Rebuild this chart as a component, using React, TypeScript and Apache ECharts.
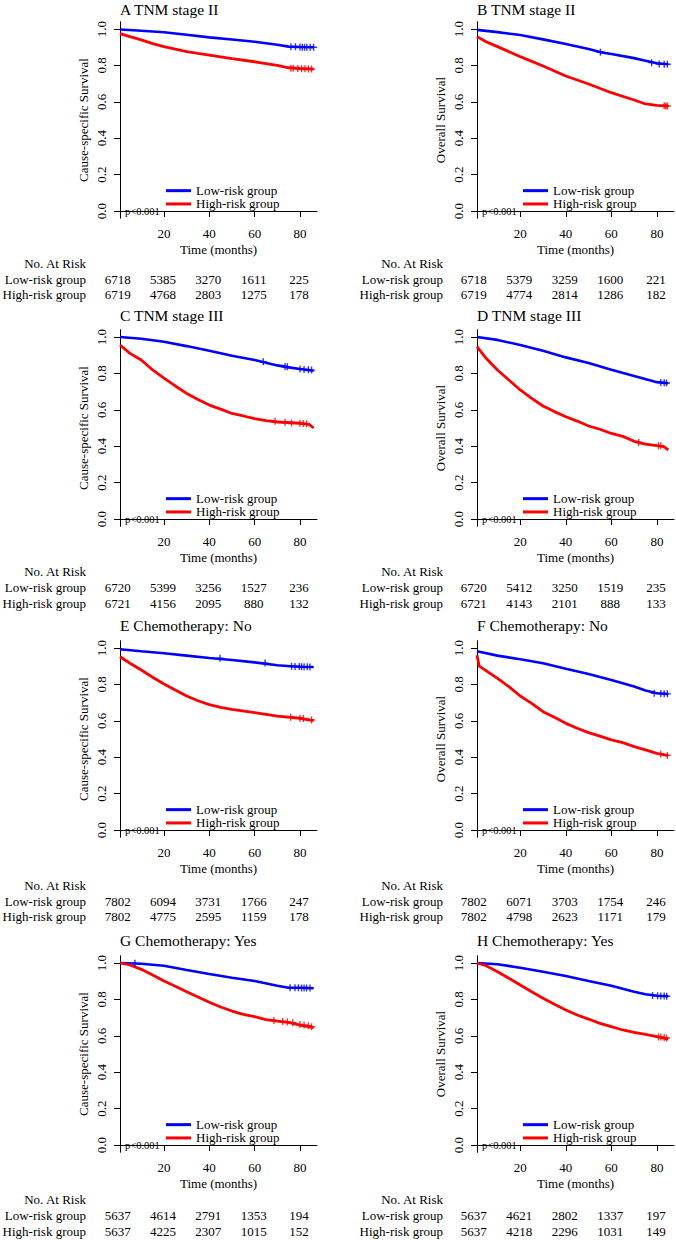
import React, { useEffect, useRef } from 'react';
import * as echarts from 'echarts';

const FONT = "'Liberation Serif', 'Times New Roman', serif";
const BLUE = '#0000FF';
const RED = '#FF0000';
const INK = '#000000';

// ---------- data ----------
const panelTitles = [
  'A TNM stage II', 'B TNM stage II',
  'C TNM stage III', 'D TNM stage III',
  'E Chemotherapy: No', 'F Chemotherapy: No',
  'G Chemotherapy: Yes', 'H Chemotherapy: Yes',
];
const yAxisNames = [
  'Cause-specific Survival', 'Overall Survival',
  'Cause-specific Survival', 'Overall Survival',
  'Cause-specific Survival', 'Overall Survival',
  'Cause-specific Survival', 'Overall Survival',
];
const seriesNames = ['Low-risk group', 'High-risk group'];
const xTicks = [20, 40, 60, 80];
const yTicks = [0, 0.2, 0.4, 0.6, 0.8, 1.0];
const pValueText = 'p<0.001';
const riskTitle = 'No. At Risk';
const riskTimes = [0, 20, 40, 60, 80];

const riskLow = [
  [6718, 5385, 3270, 1611, 225],
  [6718, 5379, 3259, 1600, 221],
  [6720, 5399, 3256, 1527, 236],
  [6720, 5412, 3250, 1519, 235],
  [7802, 6094, 3731, 1766, 247],
  [7802, 6071, 3703, 1754, 246],
  [5637, 4614, 2791, 1353, 194],
  [5637, 4621, 2802, 1337, 197],
];
const riskHigh = [
  [6719, 4768, 2803, 1275, 178],
  [6719, 4774, 2814, 1286, 182],
  [6721, 4156, 2095, 880, 132],
  [6721, 4143, 2101, 888, 133],
  [7802, 4775, 2595, 1159, 178],
  [7802, 4798, 2623, 1171, 179],
  [5637, 4225, 2307, 1015, 152],
  [5637, 4218, 2296, 1031, 149],
];

// survival curves [time, survival]
const lowA = [[0.6, 0.997], [10, 0.99], [20, 0.982], [30, 0.968], [40, 0.954], [50, 0.942], [60, 0.93], [70, 0.913], [75, 0.903], [80, 0.901], [86, 0.9]];
const highA = [[0.6, 0.975], [5, 0.958], [10, 0.94], [15, 0.92], [20, 0.903], [25, 0.889], [30, 0.876], [35, 0.866], [40, 0.857], [50, 0.837], [60, 0.82], [70, 0.8], [75, 0.787], [80, 0.783], [86, 0.78]];
const lowB = [[1, 0.995], [10, 0.983], [20, 0.967], [30, 0.943], [40, 0.918], [50, 0.89], [55, 0.873], [60, 0.863], [70, 0.84], [75, 0.826], [80, 0.812], [85, 0.806]];
const highB = [[1, 0.958], [5, 0.93], [10, 0.903], [20, 0.848], [30, 0.797], [40, 0.742], [50, 0.698], [60, 0.65], [70, 0.61], [75, 0.588], [80, 0.58], [85, 0.577]];
const lowC = [[0.6, 1.0], [10, 0.99], [20, 0.974], [30, 0.95], [40, 0.925], [50, 0.897], [60, 0.874], [70, 0.844], [75, 0.833], [80, 0.824], [86, 0.815]];
const highC = [[0.6, 0.956], [5, 0.91], [10, 0.874], [15, 0.819], [20, 0.774], [25, 0.731], [30, 0.69], [35, 0.657], [40, 0.626], [45, 0.604], [50, 0.58], [55, 0.566], [60, 0.551], [65, 0.54], [70, 0.533], [80, 0.526], [84, 0.52], [86, 0.5]];
const lowD = [[1, 1.0], [10, 0.984], [20, 0.956], [30, 0.925], [40, 0.888], [50, 0.857], [60, 0.82], [70, 0.786], [80, 0.752], [85, 0.746]];
const highD = [[1, 0.947], [5, 0.883], [10, 0.819], [15, 0.764], [20, 0.709], [25, 0.663], [30, 0.621], [35, 0.59], [40, 0.562], [45, 0.538], [50, 0.511], [55, 0.493], [60, 0.47], [65, 0.454], [70, 0.427], [75, 0.412], [80, 0.403], [83, 0.398], [85, 0.38]];
const lowE = [[0.6, 0.993], [10, 0.982], [20, 0.971], [30, 0.958], [40, 0.945], [50, 0.934], [60, 0.921], [70, 0.905], [76, 0.9], [80, 0.897], [86, 0.896]];
const highE = [[0.6, 0.952], [5, 0.916], [10, 0.879], [15, 0.839], [20, 0.802], [25, 0.769], [30, 0.736], [35, 0.71], [40, 0.689], [45, 0.674], [50, 0.663], [60, 0.645], [70, 0.626], [80, 0.614], [86, 0.601]];
const lowF = [[1, 0.982], [10, 0.958], [20, 0.938], [30, 0.916], [40, 0.886], [50, 0.857], [60, 0.824], [70, 0.788], [75, 0.766], [80, 0.751], [85, 0.747]];
const highF = [[1, 0.96], [2, 0.9], [10, 0.833], [15, 0.788], [20, 0.736], [25, 0.696], [30, 0.65], [35, 0.619], [40, 0.586], [45, 0.559], [50, 0.535], [55, 0.516], [60, 0.495], [65, 0.48], [70, 0.458], [75, 0.44], [80, 0.421], [85, 0.408]];
const lowG = [[0.6, 1.0], [10, 0.996], [20, 0.985], [30, 0.962], [40, 0.94], [50, 0.919], [60, 0.901], [70, 0.875], [75, 0.864], [80, 0.864], [86, 0.861]];
const highG = [[0.6, 1.0], [5, 0.989], [10, 0.965], [15, 0.934], [20, 0.901], [25, 0.872], [30, 0.842], [35, 0.813], [40, 0.784], [45, 0.758], [50, 0.736], [55, 0.718], [60, 0.705], [65, 0.689], [70, 0.681], [75, 0.674], [80, 0.659], [86, 0.645]];
const lowH = [[1, 1.0], [10, 0.993], [20, 0.974], [30, 0.952], [40, 0.929], [50, 0.901], [60, 0.875], [70, 0.842], [75, 0.828], [80, 0.82], [85, 0.817]];
const highH = [[1, 1.0], [5, 0.985], [10, 0.952], [15, 0.916], [20, 0.879], [25, 0.842], [30, 0.806], [35, 0.773], [40, 0.742], [45, 0.714], [50, 0.692], [55, 0.668], [60, 0.65], [65, 0.632], [70, 0.619], [75, 0.608], [80, 0.595], [85, 0.582]];

// censoring marks [time, survival]
const censLowA = [[76, 0.903], [78, 0.902], [80, 0.901], [81, 0.9], [82, 0.9], [83, 0.9], [84.5, 0.9], [86, 0.9]];
const censHighA = [[76, 0.785], [77, 0.784], [79, 0.783], [80.7, 0.782], [82.2, 0.781], [83.7, 0.78], [85.1, 0.78]];
const censLowB = [[55.2, 0.872], [77.7, 0.815], [81, 0.808], [83.2, 0.806], [84.6, 0.806]];
const censHighB = [[83.2, 0.578], [83.9, 0.577], [84.6, 0.577]];
const censLowC = [[63.8, 0.864], [73.4, 0.838], [74.4, 0.836], [80, 0.824], [81.8, 0.822], [83.7, 0.82], [85.1, 0.818]];
const censHighC = [[69, 0.537], [73.4, 0.531], [76.3, 0.528], [80, 0.526], [81.5, 0.525], [82.9, 0.523]];
const censLowD = [[81.7, 0.75], [83.2, 0.748], [84.2, 0.747]];
const censHighD = [[72, 0.42], [80.7, 0.403], [81.7, 0.402]];
const censLowE = [[44.7, 0.944], [64.6, 0.917], [76.3, 0.9], [77.8, 0.899], [79.7, 0.898], [80.7, 0.897], [81.8, 0.897], [83.2, 0.897], [84.4, 0.896]];
const censHighE = [[75.9, 0.62], [80, 0.614], [81.5, 0.612], [85.1, 0.604]];
const censLowF = [[78.8, 0.752], [81.7, 0.75], [83.2, 0.749], [84.6, 0.748]];
const censHighF = [[81.7, 0.418], [84.6, 0.41]];
const censLowG = [[7.2, 0.998], [75.6, 0.864], [77.8, 0.864], [79.3, 0.864], [80.7, 0.863], [81.8, 0.863], [82.9, 0.862], [84.4, 0.862]];
const censHighG = [[68.5, 0.684], [72.4, 0.678], [74.4, 0.676], [76.8, 0.672], [80, 0.662], [81.8, 0.66], [83.7, 0.655], [85.1, 0.65]];
const censLowH = [[78.1, 0.822], [80.3, 0.82], [81.7, 0.819], [83.2, 0.818], [84.3, 0.817]];
const censHighH = [[80.7, 0.594], [81.7, 0.593], [83.2, 0.59], [84.2, 0.588]];

const lowCurves = [lowA, lowB, lowC, lowD, lowE, lowF, lowG, lowH];
const highCurves = [highA, highB, highC, highD, highE, highF, highG, highH];
const lowCens = [censLowA, censLowB, censLowC, censLowD, censLowE, censLowF, censLowG, censLowH];
const highCens = [censHighA, censHighB, censHighC, censHighD, censHighE, censHighF, censHighG, censHighH];

// ---------- layout ----------
const W = 676;
const H = 1240;
const rowOne = [29, 337, 648, 963];      // y pixel of survival 1.0
const rowTitle = [9.5, 315, 625, 940];
const rowTable = [263.3, 571.7, 885.3, 1199.7];
const colLeft = [120, 477];
const colWidth = [197, 197];
const colXMin = [0.6, 1];
const X_MAX = 87.5;
const Y_MIN = -0.04;
const Y_MAX = 1.04;
const Y_STEP = 0.04;
const UNIT = 182; // px per survival unit
const PLUS = 'path://M4,0H6V4H10V6H6V10H4V6H0V4H4Z';

const isYTick = (v: number) => yTicks.some((t) => Math.abs(t - v) < 1e-6);

function buildOption() {
  const grids: any[] = [];
  const xAxes: any[] = [];
  const yAxes: any[] = [];
  const titles: any[] = [];
  const legends: any[] = [];
  const series: any[] = [];
  for (let i = 0; i < 8; i++) {
    const r = Math.floor(i / 2);
    const c = i % 2;
    const T = rowOne[r];
    grids.push({
      left: colLeft[c],
      width: colWidth[c],
      top: T - 0.04 * UNIT,
      height: 1.08 * UNIT,
      containLabel: false,
    });
    xAxes.push({
      type: 'value',
      gridIndex: i,
      min: colXMin[c],
      max: X_MAX,
      name: 'Time (months)',
      nameLocation: 'middle',
      nameGap: 25,
      nameTextStyle: { fontFamily: FONT, fontSize: 13, color: INK },
      axisLine: { show: true, lineStyle: { color: INK, width: 1 } },
      axisTick: { show: true, length: 6, customValues: xTicks, lineStyle: { color: INK } },
      axisLabel: { customValues: xTicks, margin: 9, fontFamily: FONT, fontSize: 13, color: INK },
      splitLine: { show: false },
    });
    yAxes.push({
      type: 'value',
      gridIndex: i,
      min: Y_MIN,
      max: Y_MAX,
      interval: Y_STEP,
      name: yAxisNames[i],
      nameLocation: 'middle',
      nameGap: 30,
      nameTextStyle: { fontFamily: FONT, fontSize: 13, color: INK },
      axisLine: { show: true, lineStyle: { color: INK, width: 1 } },
      axisTick: { show: true, length: 6, customValues: yTicks, lineStyle: { color: INK } },
      axisLabel: {
        show: true,
        rotate: 90,
        margin: 12,
        fontFamily: FONT,
        fontSize: 13,
        color: INK,
        showMinLabel: true,
        showMaxLabel: true,
        hideOverlap: false,
        formatter: (v: number) => (isYTick(v) ? v.toFixed(1) : ''),
      },
      splitLine: { show: false },
    });
    titles.push({
      text: panelTitles[i],
      left: colLeft[c],
      top: rowTitle[r] - 8,
      padding: 0,
      textStyle: { fontFamily: FONT, fontSize: 15.5, fontWeight: 'normal', color: INK, lineHeight: 16 },
    });
    legends.push({
      data: seriesNames,
      orient: 'vertical',
      left: colLeft[c] + 46,
      top: T + 155,
      padding: 0,
      itemGap: 0,
      icon: 'rect',
      itemWidth: 25,
      itemHeight: 3,
      selectedMode: false,
      textStyle: { fontFamily: FONT, fontSize: 13, lineHeight: 13.3, color: INK },
    });
    series.push({
      type: 'line', name: seriesNames[0], xAxisIndex: i, yAxisIndex: i,
      data: lowCurves[i], showSymbol: false, symbol: 'none',
      lineStyle: { color: BLUE, width: 2.6 }, itemStyle: { color: BLUE }, z: 3,
    });
    series.push({
      type: 'line', name: seriesNames[1], xAxisIndex: i, yAxisIndex: i,
      data: highCurves[i], showSymbol: false, symbol: 'none',
      lineStyle: { color: RED, width: 2.8 }, itemStyle: { color: RED }, z: 3,
    });
    series.push({
      type: 'scatter', name: 'censor-low', xAxisIndex: i, yAxisIndex: i,
      data: lowCens[i], symbol: PLUS, symbolSize: 7,
      itemStyle: { color: BLUE }, z: 4,
    });
    series.push({
      type: 'scatter', name: 'censor-high', xAxisIndex: i, yAxisIndex: i,
      data: highCens[i], symbol: PLUS, symbolSize: 7,
      itemStyle: { color: RED }, z: 4,
    });
  }
  return {
    animation: false,
    backgroundColor: '#ffffff',
    textStyle: { fontFamily: FONT },
    title: titles,
    legend: legends,
    grid: grids,
    xAxis: xAxes,
    yAxis: yAxes,
    series,
  };
}

function txt(text: string, x: number, y: number, align: string, size: number) {
  return {
    type: 'text',
    silent: true,
    style: {
      text,
      x,
      y,
      fill: INK,
      font: `${size}px ${FONT}`,
      align,
      verticalAlign: 'middle',
    },
  };
}

export default function App() {
  const ref = useRef<HTMLDivElement>(null);
  useEffect(() => {
    document.body.style.margin = '0';
    if (!ref.current) return;
    const chart = echarts.init(ref.current, null, { renderer: 'svg', width: W, height: H });
    chart.setOption(buildOption());
    const g: any[] = [];
    for (let i = 0; i < 8; i++) {
      const r = Math.floor(i / 2);
      const c = i % 2;
      const origin = chart.convertToPixel({ gridIndex: i }, [colXMin[c], 0]) as number[];
      g.push(txt(pValueText, origin[0] + 5, origin[1], 'left', 10.5));
      const labelX = colLeft[c] - 34;
      const y0 = rowTable[r];
      g.push(txt(riskTitle, labelX, y0, 'right', 13));
      g.push(txt(seriesNames[0], labelX, y0 + 15.8, 'right', 13));
      g.push(txt(seriesNames[1], labelX, y0 + 31.3, 'right', 13));
      riskTimes.forEach((t, k) => {
        const px = chart.convertToPixel({ xAxisIndex: i }, t) as number;
        g.push(txt(String(riskLow[i][k]), px - 1, y0 + 15.8, 'center', 13));
        g.push(txt(String(riskHigh[i][k]), px - 1, y0 + 31.3, 'center', 13));
      });
    }
    chart.setOption({ graphic: g });
    return () => chart.dispose();
  }, []);
  return <div ref={ref} style={{ width: W, height: H }} />;
}
